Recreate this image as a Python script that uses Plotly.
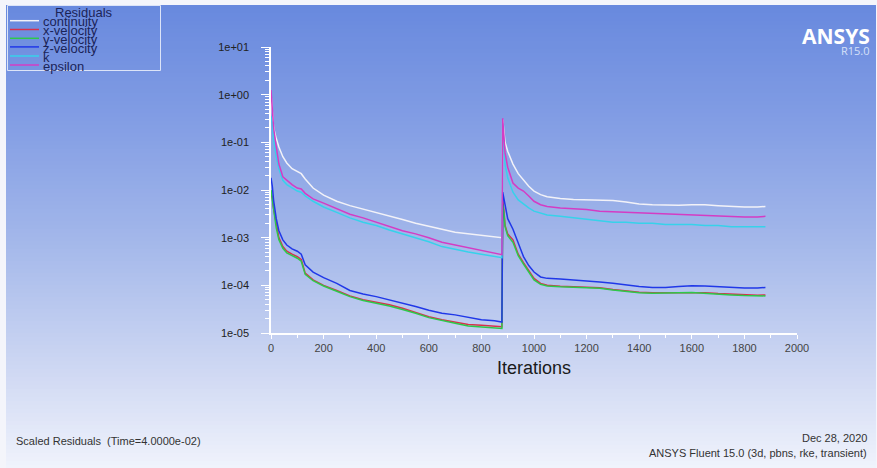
import plotly.graph_objects as go

# ---------------- data ----------------
iterations = [0, 5, 10, 20, 30, 45, 60, 80, 100, 115, 130, 160, 200, 250, 300, 350, 400, 450, 500,
              550, 600, 650, 700, 750, 800, 850, 878, 881, 885, 890, 900, 920, 940, 960, 980, 1000,
              1025, 1050, 1100, 1150, 1200, 1250, 1300, 1350, 1400, 1450, 1500, 1550, 1600, 1650,
              1700, 1750, 1800, 1850, 1880]

continuity = [1.0, 0.35, 0.2, 0.12, 0.08, 0.05, 0.037, 0.028, 0.024, 0.022, 0.017, 0.011, 0.0078,
              0.0058, 0.0047, 0.0040, 0.0033, 0.0028, 0.0024, 0.0020, 0.0017, 0.0015, 0.0013, 0.0012,
              0.0011, 0.00105, 0.00100, 0.30, 0.15, 0.10, 0.065, 0.035, 0.022, 0.016, 0.012, 0.0095,
              0.0080, 0.0072, 0.0066, 0.0063, 0.0062, 0.0062, 0.0060, 0.0056, 0.0051, 0.0049, 0.0048,
              0.0048, 0.0049, 0.0049, 0.0047, 0.0045, 0.0044, 0.0044, 0.0045]

x_velocity = [0.008, 0.007, 0.004, 0.0018, 0.001, 0.00065, 0.00052, 0.00045, 0.0004, 0.00035, 0.00018,
              0.00013, 0.0001, 0.000078, 0.00006, 0.00005, 0.000044, 0.000039, 0.000033, 0.000027,
              0.000022, 0.000019, 0.000017, 0.000015, 0.0000145, 0.000014, 0.0000135, 0.006, 0.004,
              0.0018, 0.0012, 0.0009, 0.00045, 0.0003, 0.0002, 0.00014, 0.00011, 0.0001, 0.000096,
              0.000094, 0.000092, 0.000089, 0.000082, 0.000076, 0.000072, 0.00007, 0.00007, 0.000071,
              0.000072, 0.00007, 0.000067, 0.000065, 0.000063, 0.000062, 0.000063]

y_velocity = [0.01, 0.006, 0.0035, 0.0016, 0.0009, 0.0006, 0.00048, 0.00042, 0.00037, 0.00032, 0.00017,
              0.000125, 0.000097, 0.000075, 0.000058, 0.000048, 0.000042, 0.000037, 0.000031, 0.000026,
              0.000021, 0.000018, 0.000016, 0.000014, 0.0000135, 0.000013, 0.0000125, 0.005, 0.0035,
              0.0017, 0.0011, 0.0008, 0.00042, 0.00028, 0.00019, 0.00013, 0.000105, 0.000097, 0.000093,
              0.000092, 0.00009, 0.000087, 0.00008, 0.000074, 0.00007, 0.000068, 0.000068, 0.00007,
              0.000071, 0.000069, 0.000066, 0.000063, 0.000061, 0.00006, 0.00006]

z_velocity = [0.018, 0.012, 0.006, 0.0025, 0.0014, 0.0009, 0.0007, 0.00058, 0.00052, 0.00045, 0.00027,
              0.00019, 0.000145, 0.00011, 0.000078, 0.000066, 0.000058, 0.00005, 0.000043, 0.000036,
              0.00003, 0.000026, 0.000024, 0.000021, 0.000019, 0.000018, 0.000017, 0.009, 0.007, 0.005,
              0.0025, 0.0015, 0.0008, 0.0004, 0.00026, 0.00019, 0.00015, 0.00014, 0.000135, 0.00013,
              0.000125, 0.000118, 0.00011, 0.0001, 0.000094, 0.00009, 0.00009, 0.000095, 0.000098,
              0.000097, 0.000093, 0.00009, 0.000088, 0.000088, 0.00009]

k = [0.35, 0.25, 0.12, 0.05, 0.028, 0.016, 0.013, 0.011, 0.0095, 0.009, 0.0075, 0.0058, 0.0044, 0.0034,
     0.0026, 0.0021, 0.0018, 0.00145, 0.0012, 0.00100, 0.00082, 0.00065, 0.00056, 0.00050, 0.00045,
     0.00041, 0.00038, 0.25, 0.08, 0.035, 0.018, 0.009, 0.0062, 0.0050, 0.0042, 0.0036, 0.0033, 0.0030,
     0.0028, 0.0026, 0.0024, 0.0022, 0.0021, 0.0021, 0.0020, 0.0020, 0.0019, 0.0019, 0.0019, 0.0018,
     0.0018, 0.0017, 0.0017, 0.0017, 0.0017]

epsilon = [1.25, 0.5, 0.2, 0.08, 0.035, 0.019, 0.016, 0.013, 0.011, 0.0105, 0.0085, 0.0065, 0.0053,
           0.0040, 0.0031, 0.0026, 0.0021, 0.0017, 0.0014, 0.0012, 0.00100, 0.00080, 0.00070, 0.00060,
           0.00053, 0.00047, 0.00044, 0.32, 0.12, 0.06, 0.03, 0.014, 0.011, 0.0095, 0.0075, 0.0058,
           0.0049, 0.0045, 0.0042, 0.0041, 0.0039, 0.0036, 0.0035, 0.0034, 0.0033, 0.0032, 0.0031,
           0.0030, 0.0030, 0.0029, 0.0028, 0.0027, 0.0027, 0.0027, 0.0028]

series_names = ["continuity", "x-velocity", "y-velocity", "z-velocity", "k", "epsilon"]
series_values = [continuity, x_velocity, y_velocity, z_velocity, k, epsilon]
series_colors = ["#f2f2f8", "#d8304c", "#2ec84a", "#2038e8", "#36d2ea", "#d43cc4"]

y_tickvals = [1e-05, 1e-04, 1e-03, 1e-02, 1e-01, 1e+00, 1e+01]
y_ticktext = ["1e-05", "1e-04", "1e-03", "1e-02", "1e-01", "1e+00", "1e+01"]
x_tickvals = [0, 200, 400, 600, 800, 1000, 1200, 1400, 1600, 1800, 2000]

# ---------------- layout geometry ----------------
W, H = 877, 468
L, R, T, B = 271, 80, 47, 135
PW, PH = W - L - R, H - T - B
FONT = "Liberation Sans, Arial, sans-serif"


def px2x(px):
    return (px - L) / PW


def py2y(py):
    return (H - B - py) / PH


fig = go.Figure()
for name, vals, col in zip(series_names, series_values, series_colors):
    fig.add_trace(go.Scatter(x=iterations, y=vals, name=name, mode="lines",
                             line=dict(color=col, width=1.5), showlegend=False))

shapes = []
# background gradient (top blue -> bottom pale)
stops = [(5, (104, 137, 222)), (120, (130, 157, 228)), (240, (163, 183, 234)),
         (360, (203, 213, 242)), (468, (240, 243, 252))]


def col_at(py):
    for (y0, c0), (y1, c1) in zip(stops[:-1], stops[1:]):
        if y0 <= py <= y1:
            t = (py - y0) / (y1 - y0)
            return tuple(round(a + (b - a) * t) for a, b in zip(c0, c1))
    return stops[-1][1]


band = 4
py = 5
while py < H:
    c = col_at(py + band / 2)
    shapes.append(dict(type="rect", xref="paper", yref="paper", layer="below",
                       x0=px2x(6), x1=px2x(876), y0=py2y(min(py + band + 0.5, H)), y1=py2y(py),
                       line=dict(width=0), fillcolor="rgb(%d,%d,%d)" % c))
    py += band

# legend box
shapes.append(dict(type="rect", xref="paper", yref="paper", layer="above",
                   x0=px2x(7.5), x1=px2x(160.5), y0=py2y(70.5), y1=py2y(5.5),
                   line=dict(color="#dce4f8", width=1), fillcolor="rgba(0,0,0,0)"))
legend_line_y = [20.7, 29.5, 38.3, 46.9, 56.0, 65.0]
for yy, col in zip(legend_line_y, series_colors):
    shapes.append(dict(type="line", xref="paper", yref="paper", layer="above",
                       x0=px2x(10), x1=px2x(39), y0=py2y(yy), y1=py2y(yy),
                       line=dict(color=col, width=1.5)))

annotations = []
annotations.append(dict(text="Residuals", xref="paper", yref="paper", x=px2x(84), y=py2y(12.7),
                        xanchor="center", yanchor="middle", showarrow=False,
                        font=dict(family=FONT, size=13, color="#1b2458")))
for yy, name in zip(legend_line_y, series_names):
    annotations.append(dict(text=name, xref="paper", yref="paper", x=px2x(41), y=py2y(yy + 1.2),
                            xanchor="left", yanchor="middle", showarrow=False,
                            font=dict(family=FONT, size=13, color="#1b2458")))

# ANSYS logo
annotations.append(dict(text="<b>ANSYS</b>", xref="paper", yref="paper", x=px2x(872), y=py2y(35.5),
                        xanchor="right", yanchor="middle", showarrow=False,
                        font=dict(family="Open Sans, Liberation Sans, sans-serif", size=21, color="#ffffff")))
annotations.append(dict(text="R15.0", xref="paper", yref="paper", x=px2x(872), y=py2y(51),
                        xanchor="right", yanchor="middle", showarrow=False,
                        font=dict(family="Open Sans, Liberation Sans, sans-serif", size=11, color="#d6e0f8")))

# footer texts
annotations.append(dict(text="Scaled Residuals\u00a0 (Time=4.0000e-02)", xref="paper", yref="paper",
                        x=px2x(14), y=py2y(441), xanchor="left", yanchor="middle", showarrow=False,
                        font=dict(family=FONT, size=11, color="#333333")))
annotations.append(dict(text="Dec 28, 2020", xref="paper", yref="paper",
                        x=px2x(869), y=py2y(438), xanchor="right", yanchor="middle", showarrow=False,
                        font=dict(family=FONT, size=11, color="#333333")))
annotations.append(dict(text="ANSYS Fluent 15.0 (3d, pbns, rke, transient)", xref="paper", yref="paper",
                        x=px2x(869), y=py2y(453), xanchor="right", yanchor="middle", showarrow=False,
                        font=dict(family=FONT, size=11, color="#333333")))

fig.update_layout(
    width=W, height=H,
    margin=dict(l=L, r=R, t=T, b=B, pad=0),
    paper_bgcolor="#f4f5fb",
    plot_bgcolor="rgba(0,0,0,0)",
    shapes=shapes,
    annotations=annotations,
    showlegend=False,
    font=dict(family=FONT),
)

fig.update_xaxes(
    range=[0, 2000], tickvals=x_tickvals, ticks="outside", ticklen=4, tickcolor="white", tickwidth=1,
    showline=True, linecolor="white", linewidth=1.5, showgrid=False, zeroline=False,
    tickfont=dict(family=FONT, size=11, color="#444444"),
    minor=dict(dtick=100, ticks="outside", ticklen=3, tickcolor="white", showgrid=False),
    title=dict(text="Iterations", font=dict(family=FONT, size=18, color="#1a1a1a"), standoff=8),
)
fig.update_yaxes(
    type="log", range=[-5, 1], tickvals=y_tickvals, ticktext=y_ticktext, ticks="outside", ticklen=8,
    tickcolor="white", tickwidth=1, showline=True, linecolor="white", linewidth=1.5, showgrid=False,
    zeroline=False, tickfont=dict(family=FONT, size=11, color="#222222"), ticklabelstandoff=10,
    minor=dict(dtick="D1", ticks="outside", ticklen=4, tickcolor="white", showgrid=False),
)

fig.write_html(
    "out.html",
    config={"displayModeBar": False},
    post_script="document.body.style.margin='0';document.body.style.padding='0';"
                "document.body.style.overflow='hidden';",
)
